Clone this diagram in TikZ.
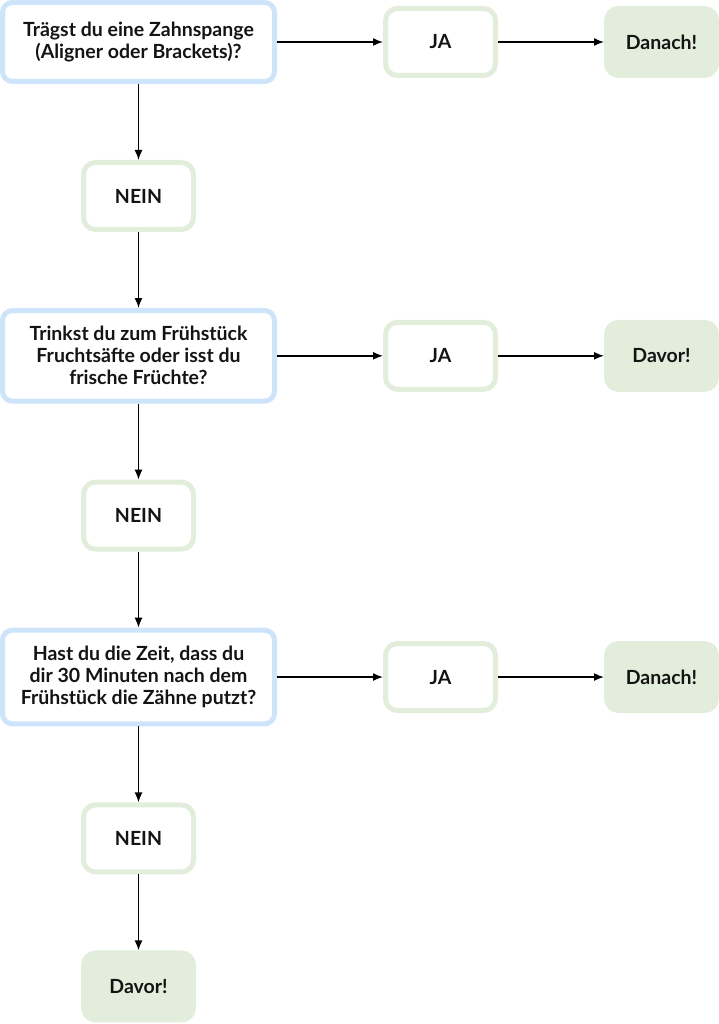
\documentclass[tikz,border=0pt]{standalone}
\usepackage{fontspec}
\setmainfont{Lato}
\usetikzlibrary{arrows.meta,positioning}
\definecolor{askblue}{RGB}{205,228,250}
\definecolor{answergreen}{RGB}{226,238,219}

\begin{document}
\begin{tikzpicture}[->,>={Latex[length=10pt,width=8pt]},line width=1.5pt,x=1pt,y=1pt,node distance=76pt and 106pt]
  \tikzstyle{every node}=[font=\fontsize{19.5}{22}\selectfont\bfseries,text=black!92]
  \tikzstyle{question}=[draw=askblue,line width=5pt,fill=white,rounded corners=10pt,
    align=center,minimum width=272pt,minimum height=79pt,inner ysep=16pt]
  \tikzstyle{answer}=[draw=answergreen,line width=5pt,fill=white,rounded corners=12pt,
    minimum width=110pt,minimum height=67pt]
  \tikzstyle{result}=[answer,fill=answergreen]

  \useasboundingbox (0,0) rectangle (718,-1024);

  \node[question] (Q1) at (138.5,-42) {Trägst du eine Zahnspange\\(Aligner oder Brackets)?};
  \node[answer]   (N1) [below=of Q1] {NEIN};
  \node[question] (Q2) [below=of N1] {Trinkst du zum Frühstück\\Fruchtsäfte oder isst du\\frische Früchte?};
  \node[answer]   (N2) [below=of Q2] {NEIN};
  \node[question] (Q3) [below=of N2] {Hast du die Zeit, dass du\\dir 30 Minuten nach dem\\Frühstück die Zähne putzt?};
  \node[answer]   (N3) [below=of Q3] {NEIN};
  \node[result]   (R4) [below=of N3] {Davor!};

  \node[answer]   (J1) [right=of Q1] {JA};
  \node[result]   (R1) [right=of J1] {Danach!};
  \node[answer]   (J2) [right=of Q2] {JA};
  \node[result]   (R2) [right=of J2] {Davor!};
  \node[answer]   (J3) [right=of Q3] {JA};
  \node[result]   (R3) [right=of J3] {Danach!};

  \draw (Q1) -- (J1);
  \draw (J1) -- (R1);
  \draw (Q2) -- (J2);
  \draw (J2) -- (R2);
  \draw (Q3) -- (J3);
  \draw (J3) -- (R3);
  \draw (Q1) -- (N1);
  \draw (N1) -- (Q2);
  \draw (Q2) -- (N2);
  \draw (N2) -- (Q3);
  \draw (Q3) -- (N3);
  \draw (N3) -- (R4);
\end{tikzpicture}
\end{document}
